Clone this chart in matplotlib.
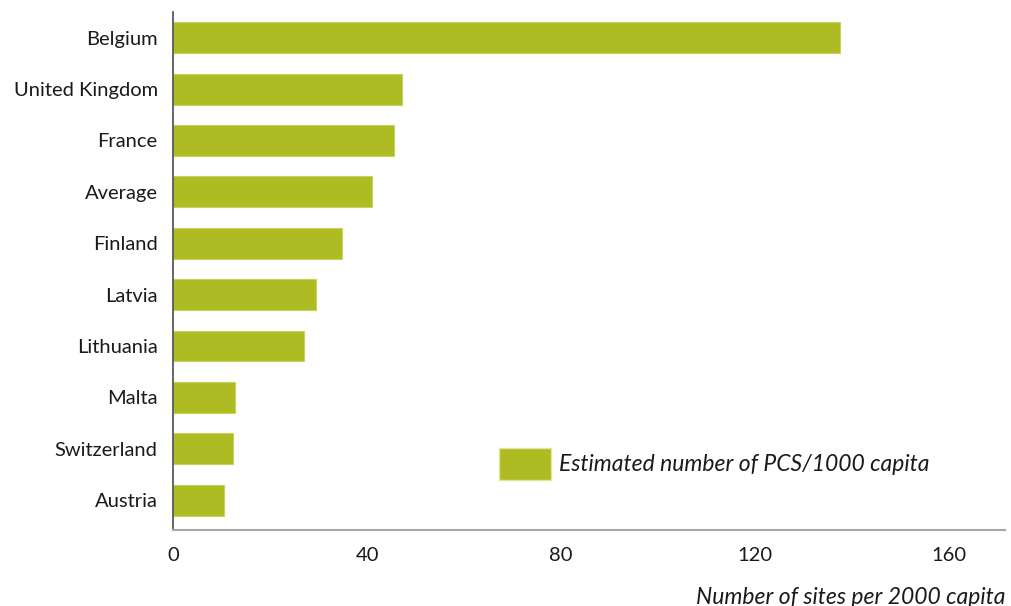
import matplotlib
matplotlib.use('Agg')
import matplotlib.pyplot as plt
from matplotlib.patches import Patch

countries = ['Belgium', 'United Kingdom', 'France', 'Average', 'Finland',
             'Latvia', 'Lithuania', 'Malta', 'Switzerland', 'Austria']
values = [137.5, 47.3, 45.5, 41.1, 34.9, 29.5, 27.0, 12.7, 12.3, 10.6]
xticks = [0, 40, 80, 120, 160]
legend_label = 'Estimated number of PCS/1000 capita'
xlabel = 'Number of sites per 2000 capita'

BAR = '#afbb22'
plt.rcParams['font.family'] = ['Lato', 'DejaVu Sans']

fig = plt.figure(figsize=(10.11, 6.06), dpi=100)
ax = fig.add_axes([173 / 1011, 76 / 606, 832 / 1011, 518 / 606])

ypos = list(range(len(countries)))[::-1]
ax.barh(ypos, values, height=0.6, color=BAR, edgecolor='#c8d25a', linewidth=0.8)
ax.set_yticks(ypos)
ax.set_yticklabels(countries, fontsize=14.5, color='#1a1a1a')
ax.set_xticks(xticks)
ax.set_xticklabels([str(t) for t in xticks], fontsize=14.5, color='#1a1a1a')
ax.set_xlim(0, 171.5)
ax.set_ylim(-0.58, 9.5)
ax.tick_params(axis='both', length=0)
ax.tick_params(axis='x', pad=12)
ax.tick_params(axis='y', pad=11)

for s in ['top', 'right']:
    ax.spines[s].set_visible(False)
ax.spines['left'].set_color('#595959')
ax.spines['left'].set_linewidth(1.3)
ax.spines['bottom'].set_color('#a6a6a6')
ax.spines['bottom'].set_linewidth(1.5)

leg = ax.legend(handles=[Patch(facecolor=BAR, edgecolor='#dfe6a0', label=legend_label)],
                loc='center left', bbox_to_anchor=(326 / 832, 66 / 518),
                frameon=False, borderaxespad=0, borderpad=0,
                handlelength=2.25, handleheight=1.8, handletextpad=0.36,
                prop={'style': 'italic', 'size': 16.5})
for t in leg.get_texts():
    t.set_color('#1a1a1a')

fig.text(1005 / 1011, 9 / 606, xlabel, ha='right', va='center',
         fontsize=16.5, style='italic', color='#1a1a1a')

fig.savefig('out.png', dpi=100)
